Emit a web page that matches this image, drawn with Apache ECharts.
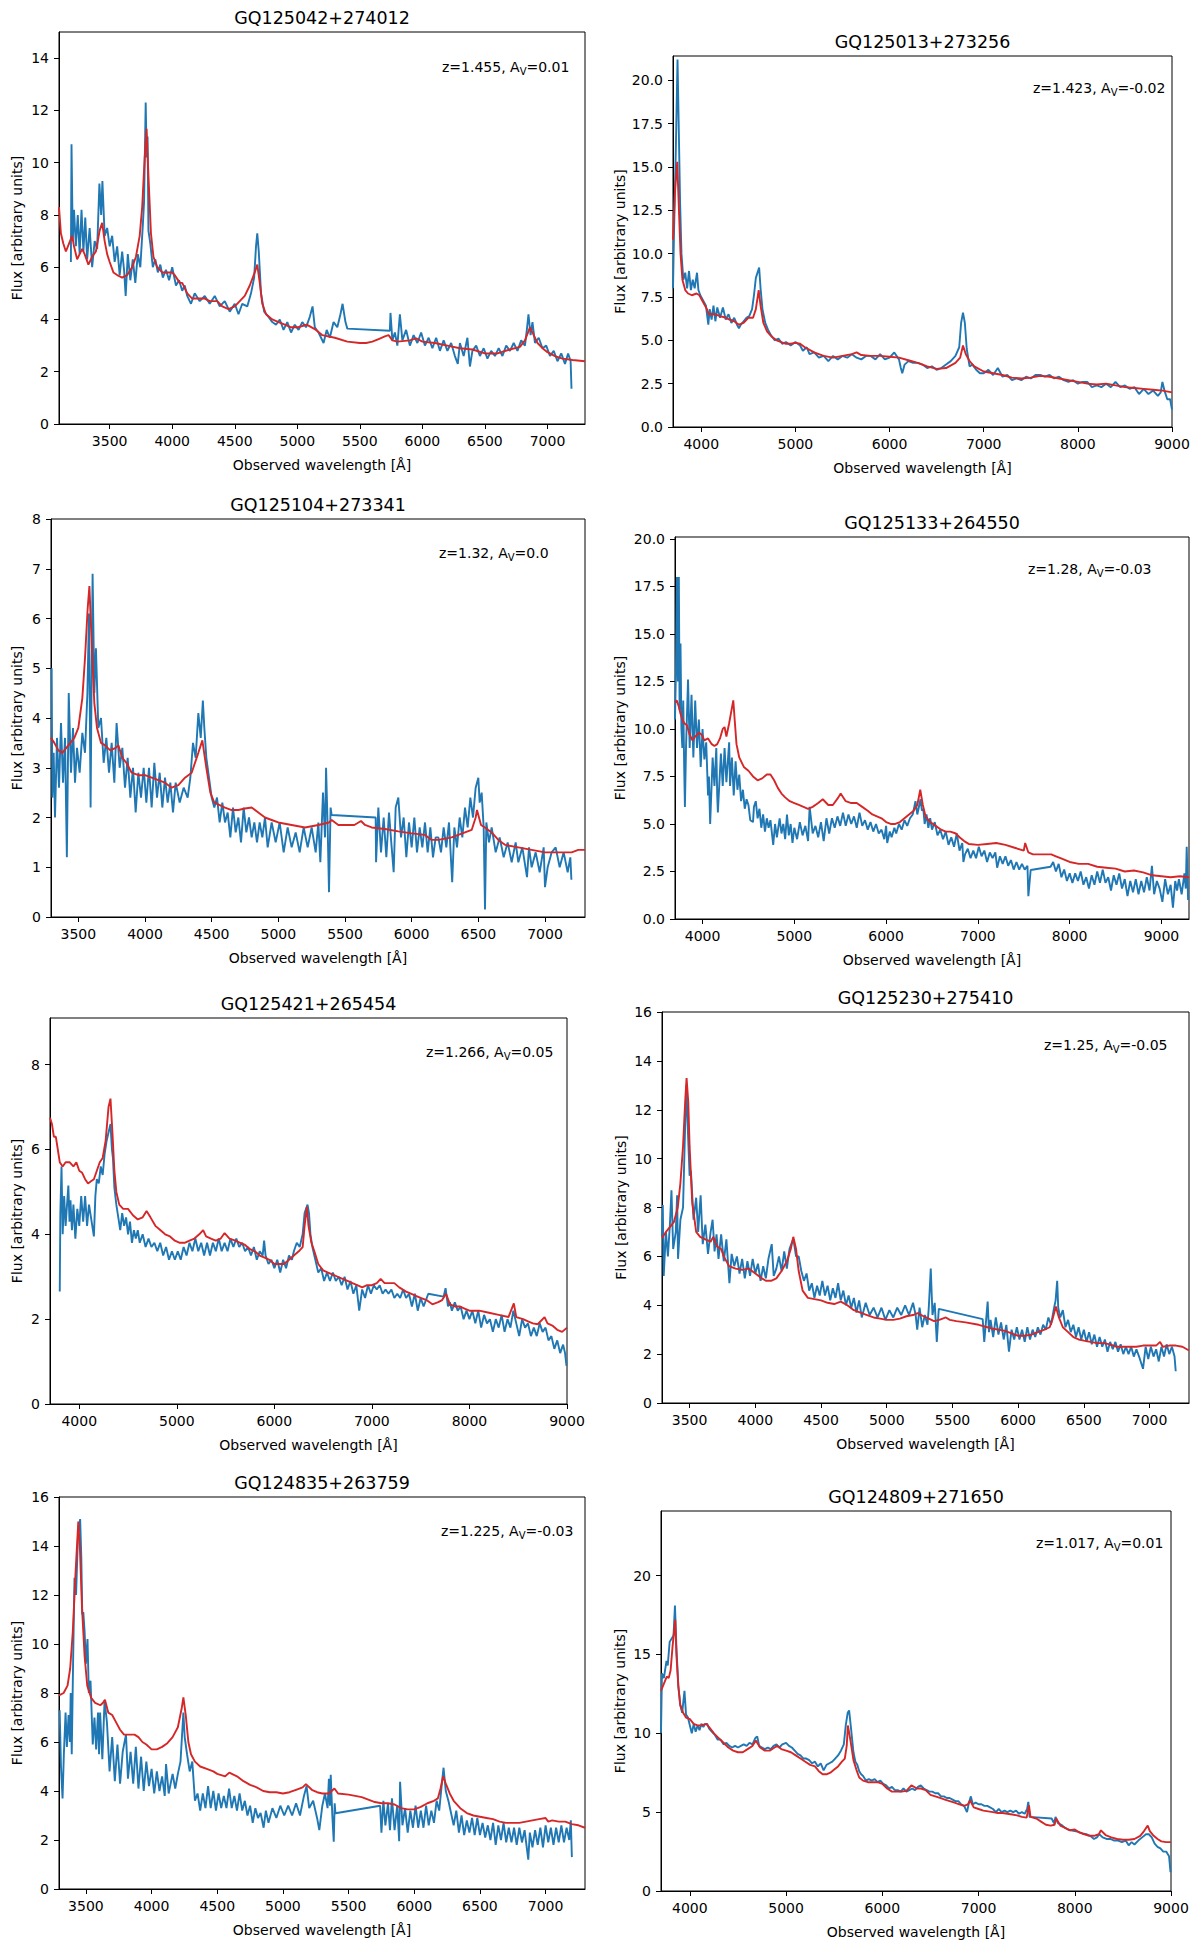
<!DOCTYPE html>
<html>
<head>
<meta charset="utf-8">
<script src="https://cdn.jsdelivr.net/npm/echarts@6/dist/echarts.min.js"></script>
<style>
  html, body { margin: 0; padding: 0; background: #fff; }
  #chart { width: 1200px; height: 1947px; }
</style>
</head>
<body>
<div id="chart"></div>
<script>
// ---- object names and fit parameters ----
const objectNames = ['GQ125042+274012', 'GQ125013+273256', 'GQ125104+273341', 'GQ125133+264550',
  'GQ125421+265454', 'GQ125230+275410', 'GQ124835+263759', 'GQ124809+271650']
const redshifts = ['1.455', '1.423', '1.32', '1.28', '1.266', '1.25', '1.225', '1.017']
const extinctions = ['0.01', '-0.02', '0.0', '-0.03', '0.05', '-0.05', '-0.03', '0.01']

// ---- axis ranges and tick labels ----
const xRanges = [[3095, 7300], [3700, 9000], [3295, 7300], [3700, 9300], [3700, 9000], [3290, 7300], [3295, 7300], [3700, 9000]]
const yMaxes = [15, 21.4, 8, 20.1, 9.1, 16, 16, 24.1]
const xTicks500 = [3500, 4000, 4500, 5000, 5500, 6000, 6500, 7000]
const xTicks1000 = [4000, 5000, 6000, 7000, 8000, 9000]
const yTicks = [
  [0, 2, 4, 6, 8, 10, 12, 14],
  [0, 2.5, 5, 7.5, 10, 12.5, 15, 17.5, 20],
  [0, 1, 2, 3, 4, 5, 6, 7, 8],
  [0, 2.5, 5, 7.5, 10, 12.5, 15, 17.5, 20],
  [0, 2, 4, 6, 8],
  [0, 2, 4, 6, 8, 10, 12, 14, 16],
  [0, 2, 4, 6, 8, 10, 12, 14, 16],
  [0, 5, 10, 15, 20]
]

// ---- observed spectra [wavelength, flux] ----
const obs125042 = [[3190,6.2],[3195,10.7],[3205,7.0],[3215,8.2],[3230,6.8],[3245,8.0],[3260,6.5],[3275,8.2],[3290,6.6],[3305,7.9],[3320,6.3],[3340,7.5],[3360,6.0],[3380,7.0],[3400,6.7],[3418,9.2],[3432,8.0],[3442,9.3],[3460,7.2],[3480,7.5],[3500,6.8],[3520,7.2],[3540,6.2],[3560,6.8],[3580,5.7],[3600,6.6],[3615,5.9],[3628,4.9],[3645,6.5],[3665,5.5],[3685,6.3],[3705,5.4],[3725,6.5],[3745,6.0],[3765,7.6],[3775,8.5],[3782,10.5],[3788,12.3],[3796,10.2],[3803,11.0],[3810,7.4],[3825,6.9],[3845,6.0],[3865,6.3],[3885,5.8],[3905,6.1],[3925,5.6],[3950,5.9],[3975,5.5],[4000,6.0],[4030,5.3],[4055,5.5],[4080,5.1],[4100,5.3],[4120,4.9],[4150,4.6],[4180,5.0],[4220,4.7],[4260,4.9],[4300,4.6],[4340,4.9],[4380,4.5],[4420,4.7],[4460,4.3],[4500,4.6],[4530,4.2],[4560,4.6],[4600,4.5],[4630,5.0],[4655,5.6],[4670,6.8],[4680,7.3],[4692,6.6],[4710,5.0],[4735,4.3],[4770,4.1],[4800,3.9],[4830,3.8],[4860,4.0],[4890,3.6],[4920,3.9],[4950,3.5],[4980,3.8],[5010,3.6],[5040,3.9],[5070,3.7],[5100,4.1],[5122,4.5],[5140,3.7],[5170,3.5],[5210,3.1],[5235,3.6],[5260,3.3],[5290,3.9],[5320,3.7],[5345,4.2],[5362,4.6],[5385,3.9],[5400,3.65],[5740,3.57],[5745,4.25],[5760,3.2],[5780,3.5],[5800,3.0],[5820,4.2],[5840,3.2],[5870,3.6],[5900,3.0],[5930,3.4],[5960,3.1],[5990,3.5],[6020,3.0],[6050,3.3],[6080,2.9],[6110,3.3],[6140,2.8],[6170,3.2],[6200,2.8],[6230,3.1],[6260,2.6],[6283,2.3],[6300,3.1],[6330,2.6],[6360,3.3],[6380,2.2],[6400,2.8],[6430,3.0],[6460,2.6],[6490,2.9],[6520,2.5],[6550,2.8],[6580,2.6],[6610,2.9],[6640,2.6],[6670,3.0],[6700,2.8],[6730,3.1],[6760,2.8],[6790,3.2],[6820,3.0],[6835,3.6],[6848,4.2],[6865,3.4],[6880,3.9],[6900,3.1],[6930,3.3],[6960,2.9],[6990,3.0],[7020,2.6],[7050,2.8],[7080,2.4],[7110,2.7],[7140,2.3],[7165,2.7],[7185,2.4],[7192,1.35]]
const obs125013 = [[3700,8.0],[3710,11.0],[3730,16.0],[3748,21.2],[3762,17.0],[3775,13.0],[3790,10.0],[3810,8.5],[3830,8.9],[3850,8.0],[3870,9.0],[3890,7.9],[3910,8.5],[3930,8.0],[3955,8.9],[3970,7.9],[3990,7.6],[4020,7.3],[4050,7.0],[4075,5.9],[4090,6.8],[4110,6.2],[4130,7.0],[4150,6.1],[4170,6.9],[4200,6.3],[4230,6.9],[4260,6.2],[4290,6.5],[4320,6.0],[4350,6.3],[4380,5.9],[4400,5.7],[4420,5.9],[4450,6.1],[4480,6.3],[4510,6.4],[4540,6.8],[4560,7.6],[4580,8.6],[4615,9.2],[4630,8.0],[4650,6.8],[4680,6.0],[4710,5.6],[4740,5.3],[4780,5.0],[4820,5.1],[4860,4.8],[4900,4.9],[4950,4.7],[5000,4.9],[5050,4.7],[5080,4.4],[5120,4.6],[5150,4.2],[5200,4.3],[5250,4.0],[5300,4.1],[5350,3.8],[5400,4.1],[5450,3.9],[5500,4.1],[5550,4.0],[5600,4.2],[5650,4.0],[5700,3.9],[5750,4.1],[5800,4.1],[5850,3.9],[5900,4.2],[5950,3.9],[6000,4.0],[6050,4.3],[6100,3.9],[6120,3.4],[6135,3.1],[6160,3.6],[6200,3.8],[6250,3.7],[6300,3.7],[6350,3.6],[6400,3.4],[6450,3.5],[6500,3.3],[6550,3.4],[6600,3.6],[6650,3.8],[6700,4.1],[6740,4.6],[6760,6.0],[6780,6.6],[6800,6.0],[6820,4.5],[6850,3.5],[6880,3.6],[6920,3.3],[6960,3.1],[7000,3.1],[7050,3.3],[7100,3.0],[7150,3.4],[7200,2.9],[7250,3.0],[7300,2.7],[7350,2.8],[7400,2.7],[7450,2.9],[7500,2.8],[7550,3.0],[7600,3.0],[7650,2.9],[7700,3.0],[7750,2.8],[7800,2.9],[7850,2.7],[7900,2.6],[7950,2.7],[8000,2.5],[8050,2.6],[8100,2.6],[8150,2.3],[8200,2.4],[8250,2.3],[8300,2.5],[8350,2.3],[8400,2.6],[8450,2.3],[8500,2.4],[8550,2.2],[8600,2.3],[8650,1.9],[8700,2.2],[8750,1.9],[8800,2.1],[8850,1.8],[8880,2.0],[8898,2.6],[8920,2.1],[8950,1.6],[8980,1.6],[9000,1.0]]
const obs125104 = [[3300,5.0],[3305,2.4],[3315,3.3],[3325,2.0],[3340,3.6],[3355,2.6],[3370,3.9],[3385,2.7],[3400,3.6],[3414,1.2],[3428,4.5],[3445,2.9],[3460,3.8],[3475,2.7],[3490,3.4],[3510,2.9],[3530,3.7],[3550,3.3],[3568,4.5],[3580,6.1],[3592,2.2],[3600,5.0],[3607,6.9],[3620,4.5],[3632,5.4],[3650,3.8],[3670,4.0],[3690,3.1],[3710,3.6],[3730,2.9],[3750,3.5],[3770,2.7],[3787,3.9],[3810,3.0],[3830,3.4],[3850,2.6],[3870,3.2],[3890,2.4],[3910,3.0],[3930,2.1],[3950,2.9],[3970,2.4],[3990,3.0],[4010,2.3],[4030,3.0],[4050,2.2],[4070,3.1],[4090,2.4],[4110,2.9],[4130,2.2],[4150,2.8],[4170,2.3],[4190,2.7],[4210,2.1],[4230,2.7],[4260,2.3],[4290,2.6],[4320,2.4],[4340,2.8],[4360,3.5],[4380,3.2],[4400,4.1],[4418,3.6],[4434,4.35],[4445,3.8],[4460,3.2],[4480,2.8],[4500,2.4],[4520,2.2],[4540,2.4],[4560,1.9],[4580,2.3],[4600,1.9],[4620,2.1],[4640,1.6],[4660,2.2],[4680,1.7],[4700,2.0],[4720,1.5],[4740,2.2],[4760,1.7],[4780,2.0],[4800,1.6],[4820,1.9],[4840,1.5],[4860,1.9],[4880,1.6],[4900,2.0],[4920,1.4],[4950,1.9],[4980,1.5],[5010,1.9],[5040,1.3],[5070,1.8],[5100,1.4],[5130,1.7],[5160,1.3],[5190,1.8],[5220,1.4],[5250,1.8],[5280,1.3],[5300,1.9],[5315,1.1],[5335,2.5],[5350,1.6],[5358,3.0],[5370,1.8],[5380,0.5],[5392,2.2],[5400,2.05],[5730,2.0],[5733,1.1],[5750,2.2],[5770,1.3],[5790,2.0],[5810,1.2],[5830,2.1],[5850,1.4],[5865,0.9],[5880,2.2],[5900,2.4],[5920,1.6],[5940,2.0],[5960,1.2],[5980,1.9],[6000,1.4],[6020,2.0],[6040,1.3],[6060,1.8],[6080,1.4],[6100,1.9],[6120,1.3],[6140,1.8],[6160,1.2],[6180,1.6],[6200,1.6],[6220,1.3],[6240,1.8],[6260,1.4],[6280,1.9],[6304,0.7],[6320,1.8],[6340,1.4],[6360,2.0],[6380,1.6],[6400,2.2],[6420,1.8],[6440,2.4],[6460,2.0],[6480,2.6],[6500,2.8],[6510,2.3],[6525,2.5],[6540,1.8],[6550,0.15],[6560,1.9],[6580,1.5],[6600,1.8],[6630,1.3],[6660,1.6],[6690,1.2],[6720,1.5],[6750,1.1],[6780,1.5],[6800,1.1],[6830,1.4],[6865,0.8],[6880,1.4],[6900,1.0],[6930,1.3],[6960,0.9],[6990,1.4],[7000,0.6],[7020,1.0],[7050,1.3],[7080,1.4],[7110,1.0],[7140,1.3],[7170,0.9],[7190,1.2],[7198,0.75]]
const obs125133 = [[3700,10.5],[3710,13.0],[3721,18.0],[3731,12.5],[3742,18.0],[3750,11.0],[3760,14.5],[3770,10.0],[3780,9.0],[3790,11.5],[3800,8.0],[3808,5.9],[3820,9.0],[3842,12.6],[3860,9.0],[3880,11.8],[3900,8.5],[3920,11.5],[3940,9.0],[3960,10.5],[3980,8.0],[4000,10.0],[4020,8.4],[4040,9.3],[4060,6.5],[4070,7.5],[4083,5.0],[4110,8.5],[4130,7.0],[4150,9.0],[4160,6.5],[4167,5.6],[4200,8.7],[4220,7.0],[4240,9.0],[4260,7.2],[4290,9.3],[4300,7.0],[4320,8.5],[4340,6.5],[4360,8.3],[4380,6.8],[4400,7.6],[4420,6.2],[4440,6.8],[4460,5.8],[4480,6.3],[4500,6.0],[4520,5.2],[4550,5.1],[4560,5.9],[4580,6.2],[4600,5.3],[4620,5.8],[4640,4.8],[4660,5.5],[4680,4.6],[4700,5.3],[4720,4.8],[4740,5.2],[4770,3.9],[4790,5.0],[4810,4.3],[4840,5.3],[4860,4.5],[4880,5.0],[4900,4.2],[4920,5.5],[4940,4.4],[4960,5.0],[4980,4.0],[5000,4.8],[5030,4.2],[5060,5.1],[5090,4.4],[5120,4.9],[5150,4.1],[5167,5.9],[5200,4.5],[5230,4.9],[5260,4.3],[5290,5.1],[5320,4.1],[5350,5.3],[5380,4.5],[5410,5.3],[5440,4.8],[5470,5.4],[5500,4.9],[5530,5.6],[5560,4.9],[5590,5.5],[5620,5.0],[5650,5.4],[5680,4.8],[5710,5.6],[5740,4.9],[5770,5.2],[5800,4.7],[5830,5.1],[5860,4.6],[5890,5.0],[5920,4.5],[5950,4.7],[5980,4.2],[6000,4.9],[6012,4.0],[6040,4.6],[6060,4.3],[6090,4.8],[6110,4.5],[6140,5.0],[6170,4.7],[6200,5.2],[6230,4.9],[6260,5.3],[6290,5.5],[6320,6.2],[6340,5.5],[6375,6.3],[6390,5.7],[6405,5.8],[6420,5.0],[6440,5.5],[6460,4.8],[6480,5.3],[6500,4.7],[6530,5.1],[6560,4.4],[6590,4.7],[6620,4.2],[6650,4.6],[6680,3.9],[6710,4.3],[6740,3.8],[6770,4.5],[6800,3.6],[6830,4.0],[6842,3.0],[6860,3.4],[6890,3.7],[6920,3.2],[6950,3.6],[6980,3.2],[7010,3.8],[7040,3.3],[7070,3.6],[7100,3.0],[7130,3.5],[7160,3.2],[7190,3.5],[7210,2.7],[7240,3.3],[7270,2.9],[7300,3.3],[7330,2.8],[7360,3.1],[7390,2.6],[7420,3.0],[7450,2.6],[7480,2.9],[7510,2.6],[7540,2.8],[7550,1.2],[7575,2.58],[7792,2.75],[7820,3.0],[7850,2.5],[7880,2.9],[7910,2.2],[7940,2.6],[7970,2.0],[8000,2.4],[8030,1.9],[8060,2.4],[8090,2.0],[8120,2.5],[8150,1.8],[8180,2.2],[8210,1.6],[8240,2.3],[8270,1.8],[8300,2.5],[8330,1.9],[8360,2.6],[8390,1.9],[8420,2.2],[8450,1.5],[8480,2.3],[8510,1.8],[8540,2.4],[8570,1.6],[8600,2.1],[8630,1.2],[8660,2.0],[8690,1.4],[8720,2.1],[8750,1.3],[8780,2.0],[8810,1.4],[8840,2.2],[8870,1.5],[8896,2.8],[8920,1.3],[8950,2.0],[8980,1.6],[9010,0.9],[9040,2.1],[9070,1.3],[9100,1.8],[9125,0.6],[9150,2.0],[9170,1.5],[9190,2.1],[9220,1.3],[9250,2.4],[9265,1.6],[9275,3.8],[9290,1.0]]
const obs125421 = [[3800,2.65],[3806,4.5],[3818,5.6],[3830,4.0],[3845,4.9],[3860,4.2],[3888,5.15],[3900,4.3],[3910,4.8],[3925,4.1],[3940,4.7],[3960,3.9],[3980,4.6],[4000,4.2],[4020,4.9],[4040,4.3],[4060,4.9],[4080,4.2],[4100,4.7],[4120,4.4],[4150,3.95],[4165,4.9],[4180,5.3],[4200,5.2],[4220,5.6],[4240,5.4],[4260,5.9],[4280,6.2],[4320,6.6],[4335,6.0],[4345,5.8],[4360,5.1],[4380,4.7],[4400,4.4],[4420,4.1],[4440,4.5],[4460,4.2],[4480,4.4],[4500,4.0],[4520,4.3],[4540,3.8],[4560,4.1],[4580,3.9],[4600,4.1],[4620,3.8],[4650,4.0],[4680,3.7],[4710,3.9],[4740,3.7],[4770,3.8],[4800,3.6],[4830,3.8],[4860,3.5],[4890,3.7],[4920,3.4],[4950,3.6],[4980,3.4],[5010,3.6],[5040,3.4],[5070,3.7],[5100,3.5],[5130,3.8],[5160,3.6],[5190,3.9],[5220,3.6],[5250,3.8],[5280,3.5],[5310,3.8],[5340,3.5],[5370,3.8],[5400,3.6],[5430,3.9],[5460,3.6],[5490,3.8],[5520,3.6],[5550,3.9],[5580,3.7],[5610,3.9],[5640,3.7],[5670,3.8],[5700,3.6],[5730,3.7],[5760,3.5],[5790,3.7],[5820,3.4],[5850,3.6],[5880,3.5],[5895,3.85],[5910,3.5],[5940,3.3],[5970,3.4],[6000,3.2],[6030,3.4],[6060,3.1],[6090,3.4],[6120,3.2],[6150,3.5],[6180,3.4],[6200,3.6],[6230,3.8],[6260,3.7],[6290,4.0],[6310,4.5],[6340,4.7],[6355,4.5],[6370,4.0],[6390,3.7],[6420,3.4],[6450,3.1],[6480,3.2],[6510,2.9],[6540,3.1],[6570,2.9],[6600,3.1],[6630,2.9],[6660,3.0],[6690,2.8],[6720,3.0],[6750,2.7],[6780,2.9],[6810,2.6],[6840,2.8],[6870,2.2],[6900,2.7],[6930,2.5],[6960,2.8],[6990,2.6],[7020,2.8],[7050,2.7],[7080,2.8],[7110,2.6],[7140,2.7],[7170,2.6],[7200,2.7],[7230,2.5],[7260,2.6],[7290,2.5],[7320,2.7],[7350,2.5],[7380,2.6],[7410,2.3],[7440,2.6],[7470,2.2],[7500,2.5],[7530,2.3],[7578,2.6],[7735,2.53],[7755,2.73],[7780,2.3],[7800,2.4],[7820,2.2],[7850,2.4],[7880,2.2],[7910,2.3],[7940,2.0],[7970,2.2],[8000,2.0],[8030,2.2],[8060,1.9],[8090,2.2],[8120,1.8],[8150,2.1],[8180,1.9],[8210,2.0],[8240,1.7],[8270,2.0],[8300,1.8],[8330,2.1],[8360,1.7],[8390,2.0],[8420,1.8],[8450,2.2],[8480,1.9],[8510,1.6],[8540,2.0],[8570,1.8],[8600,1.9],[8630,1.6],[8660,1.8],[8690,1.6],[8720,1.9],[8750,1.7],[8780,1.8],[8810,1.5],[8840,1.6],[8870,1.3],[8900,1.5],[8930,1.2],[8960,1.4],[8980,1.2],[8995,0.9]]
const obs125230 = [[3290,6.8],[3296,8.1],[3303,5.2],[3320,7.0],[3335,6.0],[3350,7.3],[3362,8.7],[3375,6.3],[3395,7.0],[3405,8.5],[3412,5.9],[3430,7.5],[3450,8.0],[3462,10.5],[3475,13.0],[3488,11.0],[3500,9.3],[3510,9.5],[3530,7.5],[3550,8.4],[3565,7.0],[3584,8.5],[3600,6.5],[3620,7.3],[3640,6.1],[3660,7.0],[3675,7.5],[3690,6.2],[3705,6.9],[3720,5.9],[3740,6.9],[3760,5.8],[3780,6.7],[3803,4.9],[3820,6.1],[3840,5.6],[3860,6.0],[3880,5.3],[3900,5.9],[3920,5.1],[3940,5.8],[3960,5.2],[3980,5.9],[4000,5.3],[4020,5.7],[4040,5.0],[4060,5.6],[4080,5.1],[4100,5.9],[4125,6.5],[4140,5.2],[4160,5.5],[4180,6.0],[4200,5.4],[4220,6.2],[4240,5.5],[4260,6.3],[4280,6.6],[4290,6.7],[4310,6.0],[4330,6.0],[4350,5.4],[4370,5.0],[4390,5.3],[4410,4.6],[4430,4.9],[4450,4.3],[4470,4.8],[4490,4.4],[4510,5.0],[4530,4.4],[4550,4.8],[4570,4.2],[4590,4.7],[4610,4.3],[4630,4.9],[4650,4.2],[4670,4.6],[4690,4.0],[4710,4.4],[4730,3.9],[4750,4.3],[4770,3.7],[4790,4.2],[4810,3.5],[4840,4.1],[4870,3.6],[4900,3.9],[4930,3.5],[4960,3.9],[4990,3.4],[5020,3.8],[5050,3.5],[5080,3.9],[5110,3.6],[5140,4.0],[5170,3.6],[5200,4.1],[5220,3.6],[5232,3.0],[5250,3.9],[5270,3.1],[5290,3.6],[5310,3.2],[5320,3.9],[5335,5.5],[5348,3.6],[5365,4.1],[5381,2.5],[5396,3.85],[5730,3.43],[5742,2.5],[5768,4.15],[5778,2.9],[5790,3.4],[5810,2.7],[5830,3.5],[5850,2.8],[5870,3.3],[5890,2.6],[5910,3.2],[5930,2.1],[5950,3.0],[5970,2.6],[5990,3.1],[6010,2.6],[6030,3.0],[6050,2.5],[6070,3.1],[6090,2.6],[6110,3.0],[6130,2.7],[6150,3.1],[6170,2.8],[6190,3.2],[6210,3.0],[6230,3.5],[6250,3.2],[6270,3.8],[6285,4.2],[6297,5.0],[6305,3.9],[6320,3.5],[6340,3.8],[6360,3.1],[6380,3.4],[6400,2.9],[6420,3.2],[6440,2.7],[6460,3.1],[6480,2.6],[6500,3.0],[6520,2.5],[6540,2.9],[6560,2.4],[6580,2.8],[6600,2.3],[6620,2.7],[6640,2.3],[6660,2.6],[6680,2.1],[6700,2.5],[6720,2.2],[6740,2.5],[6760,2.1],[6780,2.4],[6800,2.0],[6820,2.3],[6840,2.0],[6860,2.3],[6880,1.9],[6900,2.2],[6920,1.9],[6950,1.4],[6970,2.3],[6990,1.8],[7010,2.3],[7030,1.9],[7050,2.2],[7070,1.7],[7090,2.3],[7110,1.9],[7130,2.4],[7150,2.0],[7170,2.3],[7190,1.9],[7199,1.3]]
const obs124835 = [[3300,7.3],[3310,5.0],[3322,3.7],[3332,5.5],[3345,7.2],[3355,5.8],[3368,7.1],[3378,6.0],[3384,8.0],[3392,5.5],[3403,9.5],[3413,12.7],[3425,12.0],[3440,14.5],[3456,15.1],[3465,13.5],[3472,11.2],[3480,11.3],[3490,10.5],[3500,9.2],[3512,10.2],[3522,8.0],[3535,8.5],[3552,5.9],[3565,7.0],[3578,5.7],[3592,7.2],[3600,5.5],[3608,7.2],[3625,5.3],[3642,7.7],[3660,6.8],[3680,4.8],[3700,6.2],[3720,4.4],[3740,5.9],[3760,4.3],[3780,5.6],[3805,6.3],[3820,4.5],[3840,5.6],[3860,4.3],[3880,5.8],[3900,4.1],[3920,5.4],[3940,4.0],[3960,5.2],[3980,4.2],[4000,4.9],[4020,3.9],[4040,4.8],[4060,4.0],[4080,4.6],[4100,3.8],[4110,5.1],[4130,3.9],[4160,4.7],[4180,4.1],[4200,4.7],[4220,5.2],[4242,7.2],[4252,6.2],[4270,5.5],[4290,4.8],[4310,5.2],[4330,3.6],[4350,3.9],[4370,3.2],[4390,3.9],[4410,3.3],[4430,4.2],[4450,3.3],[4470,4.0],[4490,3.2],[4510,3.9],[4530,3.3],[4550,3.8],[4570,3.3],[4590,4.1],[4610,3.3],[4630,3.8],[4650,3.2],[4670,3.9],[4690,3.2],[4710,3.6],[4730,3.0],[4750,3.4],[4770,2.7],[4790,3.3],[4810,2.9],[4830,3.1],[4853,2.5],[4870,3.2],[4890,2.7],[4920,3.3],[4950,2.9],[4980,3.4],[5010,3.0],[5040,3.4],[5070,3.0],[5100,3.5],[5130,3.0],[5160,3.8],[5180,4.2],[5200,3.3],[5230,3.6],[5260,2.9],[5277,2.4],[5300,3.4],[5320,3.9],[5340,3.3],[5350,4.5],[5358,3.4],[5364,4.66],[5376,3.0],[5387,1.93],[5394,3.5],[5400,3.09],[5740,3.4],[5750,2.3],[5765,3.6],[5780,2.6],[5800,3.5],[5815,2.4],[5830,3.7],[5850,2.4],[5870,3.4],[5885,1.95],[5892,4.38],[5910,2.6],[5930,3.3],[5950,2.3],[5970,3.2],[5990,2.5],[6010,3.4],[6030,2.5],[6050,3.2],[6070,2.5],[6090,3.4],[6110,2.6],[6130,3.2],[6150,2.7],[6170,3.6],[6190,3.2],[6210,4.3],[6223,4.95],[6240,4.0],[6260,3.6],[6280,3.1],[6300,2.6],[6320,3.2],[6340,2.3],[6360,3.0],[6380,2.2],[6400,2.8],[6420,2.3],[6440,2.9],[6460,2.2],[6480,2.9],[6500,2.2],[6520,2.7],[6540,2.1],[6560,2.6],[6580,2.0],[6600,2.7],[6620,1.8],[6640,2.6],[6660,2.0],[6680,2.7],[6700,1.9],[6720,2.5],[6740,1.9],[6760,2.5],[6780,1.8],[6800,2.5],[6820,1.9],[6840,2.4],[6868,1.2],[6880,2.3],[6900,1.7],[6920,2.4],[6940,1.8],[6960,2.5],[6980,1.7],[7000,2.6],[7020,1.9],[7040,2.5],[7060,1.8],[7080,2.5],[7100,1.9],[7120,2.6],[7140,1.9],[7160,2.5],[7180,2.0],[7192,2.8],[7200,1.3]]
const obs124809 = [[3700,10.0],[3710,13.8],[3730,13.5],[3757,14.6],[3770,14.3],[3790,15.8],[3810,16.0],[3830,16.2],[3845,18.1],[3860,15.5],[3880,13.0],[3900,11.8],[3920,11.3],[3944,12.7],[3960,11.2],[3980,11.0],[4000,10.5],[4020,10.0],[4040,10.6],[4060,10.1],[4080,10.5],[4100,10.2],[4120,10.6],[4140,10.4],[4160,10.6],[4180,10.6],[4200,10.3],[4230,10.1],[4260,9.9],[4290,9.6],[4320,9.6],[4350,9.3],[4380,9.4],[4410,9.2],[4440,9.1],[4470,9.2],[4500,9.1],[4530,9.2],[4560,9.3],[4590,9.2],[4620,9.4],[4650,9.3],[4680,9.7],[4700,9.8],[4720,9.2],[4750,9.1],[4780,9.0],[4810,9.1],[4840,9.0],[4870,9.2],[4900,9.3],[4930,9.1],[4960,9.3],[5000,9.4],[5030,9.2],[5060,9.1],[5090,8.9],[5120,8.7],[5150,8.6],[5180,8.4],[5210,8.4],[5240,8.3],[5270,8.1],[5300,8.2],[5330,7.9],[5360,8.1],[5390,7.65],[5420,8.0],[5450,8.1],[5480,8.2],[5510,8.4],[5540,8.6],[5570,8.9],[5600,9.3],[5620,10.5],[5640,11.3],[5655,11.45],[5680,10.0],[5700,8.8],[5720,8.2],[5740,8.0],[5760,7.6],[5780,7.4],[5800,7.3],[5830,7.0],[5860,7.1],[5890,7.0],[5920,7.1],[5950,6.9],[5980,7.0],[6010,6.8],[6040,6.7],[6070,6.5],[6100,6.6],[6130,6.4],[6160,6.4],[6190,6.3],[6220,6.5],[6250,6.3],[6280,6.4],[6310,6.5],[6340,6.4],[6370,6.6],[6400,6.7],[6430,6.5],[6460,6.4],[6490,6.3],[6520,6.3],[6550,6.2],[6580,6.2],[6610,6.0],[6640,6.0],[6670,5.9],[6700,5.9],[6730,5.8],[6760,5.7],[6790,5.7],[6820,5.5],[6850,5.4],[6880,5.0],[6900,5.6],[6920,6.0],[6940,5.5],[6970,5.6],[7000,5.5],[7030,5.5],[7060,5.4],[7090,5.4],[7120,5.3],[7150,5.2],[7180,5.0],[7210,5.2],[7240,5.0],[7270,5.1],[7300,5.0],[7330,5.1],[7360,5.0],[7390,5.1],[7420,4.9],[7450,5.0],[7480,4.9],[7505,5.2],[7517,5.65],[7530,4.7],[7760,4.6],[7785,4.3],[7800,4.7],[7825,4.3],[7860,4.2],[7900,4.0],[7930,3.9],[7960,3.85],[8000,3.8],[8040,3.75],[8080,3.65],[8120,3.6],[8160,3.5],[8200,3.3],[8230,3.4],[8255,3.6],[8290,3.4],[8330,3.3],[8370,3.3],[8410,3.2],[8450,3.2],[8490,3.1],[8530,3.2],[8560,2.9],[8590,3.1],[8620,2.95],[8660,3.2],[8700,3.4],[8740,3.6],[8770,3.6],[8800,3.4],[8830,3.0],[8860,2.8],[8890,2.7],[8920,2.5],[8950,2.5],[8980,2.2],[8995,1.2]]

// ---- model fits [wavelength, flux] ----
const fit125042 = [[3095,8.3],[3110,7.3],[3130,6.9],[3150,6.6],[3175,6.9],[3200,7.2],[3215,6.8],[3240,6.3],[3260,6.5],[3280,6.7],[3300,6.5],[3330,6.1],[3360,6.4],[3390,6.6],[3420,7.4],[3440,7.7],[3460,7.0],[3480,6.5],[3500,6.2],[3530,5.8],[3560,5.7],[3600,5.6],[3640,5.7],[3680,6.0],[3710,6.4],[3740,7.2],[3760,8.3],[3780,10.2],[3795,11.3],[3810,9.5],[3830,7.3],[3850,6.4],[3880,6.0],[3920,5.8],[3960,5.8],[4000,5.8],[4020,5.7],[4060,5.4],[4080,5.4],[4120,5.0],[4160,4.8],[4200,4.8],[4260,4.8],[4300,4.7],[4360,4.7],[4400,4.5],[4450,4.4],[4500,4.5],[4540,4.7],[4580,4.9],[4620,5.3],[4660,5.8],[4680,6.1],[4700,5.4],[4720,4.6],[4750,4.2],[4800,4.0],[4850,3.9],[4900,3.8],[4950,3.7],[5000,3.7],[5040,3.75],[5075,3.8],[5150,3.6],[5200,3.4],[5300,3.3],[5400,3.15],[5500,3.1],[5550,3.1],[5600,3.15],[5650,3.25],[5700,3.35],[5730,3.4],[5760,3.2],[5800,3.15],[5900,3.2],[5950,3.28],[6000,3.15],[6100,3.1],[6200,3.0],[6300,2.9],[6400,2.85],[6500,2.7],[6600,2.7],[6700,2.85],[6780,2.95],[6820,3.2],[6860,3.7],[6890,3.4],[6920,3.1],[6960,2.9],[7000,2.75],[7060,2.6],[7120,2.5],[7200,2.45],[7300,2.4]]
const fit125013 = [[3700,10.8],[3720,13.5],[3745,15.3],[3760,13.0],[3780,10.0],[3800,8.5],[3830,7.9],[3860,7.7],[3900,7.6],[3950,7.7],[3980,7.6],[4020,7.2],[4060,6.8],[4080,6.5],[4150,6.5],[4200,6.4],[4260,6.3],[4300,6.2],[4350,6.1],[4400,5.9],[4450,6.0],[4500,6.3],[4550,6.3],[4580,6.8],[4610,7.9],[4630,7.0],[4660,6.0],[4700,5.5],[4750,5.2],[4800,5.0],[4850,4.9],[4900,4.8],[4950,4.8],[5000,4.85],[5050,4.8],[5100,4.6],[5200,4.3],[5300,4.1],[5400,4.0],[5500,4.1],[5600,4.2],[5650,4.3],[5700,4.15],[5800,4.1],[5900,4.1],[6000,4.05],[6100,4.0],[6200,3.85],[6300,3.7],[6400,3.5],[6500,3.35],[6600,3.4],[6700,3.7],[6750,4.0],[6780,4.7],[6810,4.2],[6850,3.8],[6900,3.5],[7000,3.2],[7100,3.1],[7200,3.0],[7300,2.85],[7400,2.8],[7500,2.85],[7600,2.95],[7700,2.9],[7800,2.8],[7900,2.7],[8000,2.6],[8100,2.5],[8200,2.45],[8300,2.5],[8400,2.4],[8500,2.3],[8600,2.25],[8700,2.2],[8800,2.15],[8900,2.1],[9000,2.0]]
const fit125104 = [[3295,3.6],[3320,3.5],[3350,3.35],[3380,3.3],[3410,3.4],[3440,3.5],[3470,3.6],[3500,3.8],[3530,4.4],[3550,5.2],[3570,6.2],[3583,6.65],[3600,5.5],[3620,4.3],[3640,3.8],[3670,3.5],[3700,3.45],[3740,3.35],[3780,3.4],[3800,3.45],[3830,3.2],[3860,3.1],[3900,2.9],[3950,2.85],[4000,2.85],[4050,2.8],[4100,2.75],[4150,2.7],[4200,2.6],[4250,2.65],[4300,2.8],[4350,2.9],[4400,3.3],[4430,3.55],[4460,3.0],[4490,2.5],[4520,2.3],[4560,2.25],[4600,2.2],[4650,2.15],[4700,2.15],[4750,2.18],[4800,2.2],[4850,2.1],[4900,2.0],[4950,1.95],[5000,1.9],[5100,1.85],[5200,1.8],[5300,1.85],[5380,1.9],[5400,1.95],[5450,1.85],[5500,1.85],[5570,1.85],[5620,1.93],[5650,1.85],[5700,1.8],[5800,1.77],[5900,1.72],[6000,1.68],[6100,1.65],[6150,1.55],[6200,1.55],[6300,1.6],[6400,1.7],[6450,1.75],[6480,2.0],[6490,2.15],[6520,1.85],[6550,1.8],[6600,1.7],[6650,1.55],[6700,1.45],[6800,1.4],[6900,1.35],[7000,1.3],[7100,1.3],[7200,1.3],[7250,1.35],[7300,1.35]]
const fit125133 = [[3700,11.4],[3720,11.5],[3740,11.2],[3760,10.8],[3780,10.5],[3800,10.3],[3830,10.2],[3860,9.7],[3890,9.4],[3920,9.6],[3960,9.8],[3990,9.7],[4020,9.4],[4060,9.5],[4100,9.2],[4130,9.1],[4160,9.2],[4190,9.5],[4220,10.0],[4240,10.1],[4260,9.6],[4290,10.3],[4335,11.5],[4350,10.5],[4370,9.2],[4400,8.5],[4450,8.0],[4500,7.8],[4550,7.5],[4600,7.3],[4650,7.4],[4700,7.6],[4740,7.6],[4780,7.3],[4820,6.9],[4860,6.6],[4900,6.4],[4950,6.2],[5000,6.1],[5050,6.0],[5100,5.9],[5150,5.8],[5200,5.9],[5260,6.1],[5310,6.3],[5370,6.0],[5420,6.0],[5480,6.4],[5505,6.6],[5560,6.2],[5620,6.1],[5680,6.1],[5740,5.9],[5800,5.7],[5850,5.5],[5900,5.4],[5950,5.3],[6000,5.1],[6050,5.0],[6100,5.0],[6150,5.1],[6200,5.3],[6250,5.5],[6300,5.7],[6340,6.0],[6372,6.8],[6400,6.0],[6430,5.4],[6480,5.1],[6540,4.9],[6600,4.7],[6650,4.6],[6700,4.6],[6760,4.5],[6800,4.3],[6850,4.1],[6900,3.95],[7000,3.9],[7100,3.95],[7200,4.0],[7300,3.9],[7400,3.75],[7500,3.6],[7515,4.0],[7550,3.5],[7600,3.4],[7700,3.4],[7800,3.4],[7850,3.3],[7900,3.2],[8000,3.0],[8100,2.9],[8200,2.9],[8300,2.75],[8400,2.7],[8500,2.65],[8600,2.5],[8700,2.55],[8800,2.45],[8900,2.3],[9000,2.25],[9100,2.2],[9200,2.25],[9300,2.2]]
const fit125421 = [[3700,6.75],[3720,6.6],[3740,6.3],[3760,6.3],[3780,6.0],[3800,5.7],[3830,5.6],[3860,5.7],[3900,5.7],[3940,5.6],[3970,5.7],[4000,5.5],[4030,5.45],[4060,5.3],[4090,5.2],[4120,5.25],[4150,5.3],[4180,5.5],[4210,5.7],[4240,5.8],[4270,6.2],[4300,7.0],[4320,7.2],[4340,6.4],[4360,5.5],[4380,5.0],[4410,4.7],[4450,4.6],[4500,4.6],[4550,4.45],[4600,4.35],[4650,4.4],[4690,4.55],[4730,4.4],[4780,4.2],[4830,4.1],[4880,4.0],[4930,3.95],[4980,3.85],[5030,3.8],[5080,3.8],[5130,3.85],[5180,3.9],[5230,4.0],[5270,4.1],[5300,3.95],[5350,3.9],[5400,3.85],[5450,3.9],[5490,4.03],[5540,3.9],[5600,3.85],[5650,3.8],[5700,3.75],[5750,3.65],[5800,3.6],[5850,3.5],[5900,3.45],[5950,3.4],[6000,3.3],[6050,3.3],[6100,3.3],[6150,3.4],[6200,3.5],[6250,3.6],[6290,3.7],[6310,4.2],[6333,4.65],[6350,4.2],[6380,3.8],[6410,3.6],[6450,3.3],[6500,3.15],[6550,3.1],[6600,3.05],[6650,3.0],[6700,2.95],[6750,2.9],[6800,2.85],[6850,2.8],[6900,2.75],[6950,2.8],[7000,2.8],[7050,2.85],[7090,2.95],[7130,2.85],[7180,2.85],[7230,2.85],[7280,2.75],[7350,2.65],[7400,2.6],[7450,2.55],[7500,2.5],[7560,2.45],[7620,2.35],[7680,2.4],[7720,2.45],[7760,2.6],[7800,2.35],[7850,2.3],[7900,2.3],[7950,2.25],[8000,2.2],[8100,2.2],[8200,2.15],[8300,2.1],[8400,2.05],[8455,2.37],[8480,2.05],[8550,2.0],[8600,1.95],[8650,1.9],[8700,1.88],[8770,2.05],[8800,1.9],[8850,1.85],[8900,1.75],[8950,1.7],[9000,1.8]]
const fit125230 = [[3290,6.75],[3320,7.0],[3350,7.2],[3380,7.4],[3410,8.0],[3430,9.0],[3450,10.5],[3468,12.5],[3477,13.3],[3490,12.3],[3500,10.5],[3520,8.2],[3550,7.0],[3580,6.8],[3620,6.7],[3660,6.6],[3680,6.8],[3710,6.4],[3740,6.3],[3760,6.0],[3800,5.6],[3850,5.5],[3900,5.45],[3950,5.5],[4000,5.3],[4050,5.1],[4080,5.0],[4120,5.0],[4160,5.1],[4200,5.4],[4240,5.8],[4270,6.3],[4289,6.8],[4310,6.3],[4330,5.4],[4360,4.6],[4400,4.3],[4450,4.25],[4500,4.2],[4550,4.1],[4600,4.05],[4650,4.15],[4700,4.0],[4750,3.8],[4800,3.7],[4850,3.6],[4900,3.5],[4950,3.45],[5000,3.4],[5050,3.4],[5100,3.45],[5150,3.55],[5200,3.6],[5235,3.68],[5280,3.55],[5320,3.45],[5360,3.35],[5400,3.4],[5450,3.5],[5480,3.4],[5530,3.35],[5600,3.3],[5700,3.2],[5800,3.05],[5900,2.95],[5950,2.85],[6000,2.75],[6050,2.75],[6100,2.8],[6150,2.9],[6200,3.0],[6240,3.1],[6260,3.4],[6287,3.95],[6310,3.5],[6340,3.1],[6380,2.9],[6420,2.7],[6460,2.6],[6500,2.55],[6550,2.5],[6600,2.45],[6650,2.45],[6700,2.4],[6750,2.3],[6800,2.3],[6850,2.3],[6900,2.3],[6950,2.35],[7000,2.35],[7050,2.35],[7080,2.5],[7100,2.3],[7150,2.35],[7200,2.35],[7250,2.3],[7300,2.15]]
const fit124835 = [[3295,7.9],[3330,8.0],[3360,8.3],[3380,9.0],[3400,10.5],[3420,12.8],[3442,15.0],[3455,13.8],[3470,11.5],[3490,9.5],[3510,8.3],[3540,7.8],[3570,7.6],[3610,7.5],[3630,7.6],[3645,7.72],[3670,7.2],[3700,7.1],[3730,6.8],[3760,6.5],[3790,6.3],[3830,6.3],[3870,6.3],[3900,6.2],[3930,6.0],[3960,5.9],[4000,5.7],[4040,5.7],[4080,5.8],[4120,5.95],[4160,6.2],[4200,6.6],[4230,7.4],[4242,7.82],[4260,7.1],[4280,6.0],[4300,5.5],[4330,5.2],[4370,5.0],[4420,4.9],[4470,4.8],[4500,4.7],[4560,4.6],[4592,4.75],[4650,4.6],[4700,4.4],[4750,4.25],[4800,4.15],[4850,4.0],[4900,3.95],[4950,3.95],[5000,3.9],[5050,3.95],[5100,4.05],[5150,4.15],[5175,4.28],[5220,4.05],[5260,3.95],[5300,3.9],[5350,3.9],[5392,4.1],[5420,3.9],[5500,3.85],[5600,3.75],[5700,3.55],[5750,3.5],[5800,3.5],[5850,3.45],[5900,3.3],[5950,3.25],[6000,3.25],[6050,3.35],[6100,3.5],[6150,3.6],[6180,3.7],[6200,4.1],[6220,4.6],[6240,4.3],[6270,3.9],[6300,3.6],[6350,3.3],[6400,3.1],[6450,3.0],[6500,2.95],[6550,2.9],[6600,2.85],[6650,2.75],[6700,2.7],[6750,2.7],[6800,2.7],[6850,2.75],[6900,2.8],[6950,2.85],[7000,2.9],[7020,2.75],[7050,2.8],[7100,2.75],[7150,2.75],[7200,2.65],[7250,2.6],[7300,2.5]]
const fit124809 = [[3700,12.7],[3720,13.0],[3740,13.3],[3760,13.6],[3780,13.5],[3800,14.0],[3820,15.5],[3848,17.2],[3860,15.0],[3880,13.0],[3900,11.8],[3930,11.3],[3960,11.0],[4000,10.9],[4040,10.6],[4080,10.5],[4120,10.5],[4170,10.6],[4200,10.4],[4250,10.0],[4300,9.7],[4350,9.4],[4400,9.1],[4450,8.9],[4500,8.8],[4550,8.8],[4600,9.0],[4650,9.2],[4685,9.55],[4730,9.1],[4780,8.9],[4830,8.9],[4880,9.1],[4910,9.2],[4950,9.0],[5000,8.9],[5050,8.8],[5100,8.6],[5150,8.4],[5200,8.2],[5250,8.0],[5300,7.9],[5340,7.6],[5380,7.4],[5420,7.4],[5460,7.5],[5500,7.7],[5540,7.9],[5580,8.2],[5610,8.4],[5630,9.2],[5642,10.5],[5670,9.5],[5700,8.3],[5730,7.7],[5760,7.2],[5800,7.0],[5850,6.9],[5900,6.9],[5950,6.9],[6000,6.8],[6050,6.5],[6100,6.3],[6150,6.3],[6200,6.3],[6250,6.35],[6302,6.7],[6360,6.5],[6400,6.5],[6450,6.4],[6500,6.1],[6550,6.0],[6600,5.9],[6650,5.8],[6700,5.7],[6750,5.6],[6800,5.5],[6850,5.4],[6890,5.5],[6912,5.75],[6950,5.3],[7000,5.2],[7050,5.1],[7100,5.05],[7150,5.0],[7200,4.95],[7250,4.95],[7300,4.9],[7350,4.85],[7400,4.8],[7450,4.7],[7500,4.65],[7524,5.43],[7540,4.7],[7600,4.6],[7650,4.4],[7700,4.2],[7750,4.15],[7790,4.2],[7807,4.6],[7850,4.15],[7900,4.0],[7950,3.85],[8000,3.9],[8050,3.7],[8100,3.6],[8150,3.5],[8200,3.5],[8250,3.6],[8272,3.85],[8320,3.55],[8380,3.4],[8440,3.3],[8500,3.25],[8560,3.25],[8620,3.3],[8680,3.5],[8720,3.8],[8758,4.15],[8780,3.8],[8820,3.5],[8860,3.3],[8900,3.15],[8950,3.1],[9000,3.1]]

const observed = [obs125042, obs125013, obs125104, obs125133, obs125421, obs125230, obs124835, obs124809]
const fitted = [fit125042, fit125013, fit125104, fit125133, fit125421, fit125230, fit124835, fit124809]

// ---- panel placement (pixels) ----
const layout = [
  { left: 59, top: 32, width: 526, height: 392, yGap: 35, noteX: 442, noteY: 67 },
  { left: 673, top: 56, width: 499, height: 371, yGap: 46, noteX: 1033, noteY: 88 },
  { left: 51, top: 519, width: 534, height: 398, yGap: 27, noteX: 439, noteY: 553 },
  { left: 675, top: 537, width: 514, height: 382, yGap: 48, noteX: 1028, noteY: 569 },
  { left: 50, top: 1018, width: 517, height: 386, yGap: 26, noteX: 426, noteY: 1052 },
  { left: 662, top: 1012, width: 527, height: 391, yGap: 34, noteX: 1044, noteY: 1045 },
  { left: 59, top: 1497, width: 526, height: 392, yGap: 35, noteX: 441, noteY: 1531 },
  { left: 661, top: 1511, width: 510, height: 380, yGap: 34, noteX: 1036, noteY: 1543 }
]

const FONT = 'DejaVu Sans'
const BLUE = '#1f77b4'
const RED = '#d62728'

const chart = echarts.init(document.getElementById('chart'), null, { renderer: 'svg' })

const grids = []
const xAxes = []
const yAxes = []
const series = []
const graphics = []

layout.forEach((g, i) => {
  grids.push({
    left: g.left, top: g.top, width: g.width, height: g.height,
    show: true, borderColor: '#000', borderWidth: 1, containLabel: false
  })
  const xt = xRanges[i][0] < 3500 ? xTicks500 : xTicks1000
  const decimals = yTicks[i].some(v => v % 1 !== 0) ? 1 : 0
  xAxes.push({
    type: 'value', gridIndex: i, min: xRanges[i][0], max: xRanges[i][1],
    name: 'Observed wavelength [Å]', nameLocation: 'middle', nameGap: 34,
    nameTextStyle: { fontFamily: FONT, fontSize: 14, color: '#000' },
    axisLine: { show: true, onZero: false, lineStyle: { color: '#000', width: 1 } },
    axisTick: { show: true, inside: false, length: 5, lineStyle: { color: '#000' }, customValues: xt },
    axisLabel: { customValues: xt, margin: 10, fontFamily: FONT, fontSize: 14, color: '#000', formatter: v => String(v) },
    splitLine: { show: false }
  })
  yAxes.push({
    type: 'value', gridIndex: i, min: 0, max: yMaxes[i],
    name: 'Flux [arbitrary units]', nameLocation: 'middle', nameGap: g.yGap,
    nameTextStyle: { fontFamily: FONT, fontSize: 14, color: '#000' },
    axisLine: { show: true, onZero: false, lineStyle: { color: '#000', width: 1 } },
    axisTick: { show: true, inside: false, length: 5, lineStyle: { color: '#000' }, customValues: yTicks[i] },
    axisLabel: { customValues: yTicks[i], margin: 10, fontFamily: FONT, fontSize: 14, color: '#000', formatter: v => v.toFixed(decimals) },
    splitLine: { show: false }
  })
  // 观测光谱 (blue) 先画，拟合模型 (red) 叠在上面
  series.push({
    type: 'line', xAxisIndex: i, yAxisIndex: i, data: observed[i],
    showSymbol: false, symbol: 'none', silent: true, clip: true,
    lineStyle: { color: BLUE, width: 1.9 }, z: 2
  })
  series.push({
    type: 'line', xAxisIndex: i, yAxisIndex: i, data: fitted[i],
    showSymbol: false, symbol: 'none', silent: true, clip: true,
    lineStyle: { color: RED, width: 1.9 }, z: 3
  })
  // 标题
  graphics.push({
    type: 'text', x: g.left + g.width / 2, y: g.top - 14.5, silent: true,
    style: {
      text: objectNames[i], fontFamily: FONT, fontSize: 17.5, fill: '#000',
      align: 'center', verticalAlign: 'middle', textAlign: 'center', textVerticalAlign: 'middle'
    }
  })
  // z / A_V 注释
  graphics.push({
    type: 'text', x: g.noteX, y: g.noteY, silent: true,
    style: {
      text: '{t|z=' + redshifts[i] + ', A}{s|V}{t|=' + extinctions[i] + '}',
      align: 'left', verticalAlign: 'middle', textAlign: 'left', textVerticalAlign: 'middle',
      rich: {
        t: { fontFamily: FONT, fontSize: 14, fill: '#000', color: '#000', lineHeight: 19 },
        s: { fontFamily: FONT, fontSize: 10, fill: '#000', color: '#000', lineHeight: 10, verticalAlign: 'bottom' }
      }
    }
  })
})

chart.setOption({
  backgroundColor: '#fff',
  animation: false,
  grid: grids,
  xAxis: xAxes,
  yAxis: yAxes,
  series: series,
  graphic: graphics
})
</script>
</body>
</html>
